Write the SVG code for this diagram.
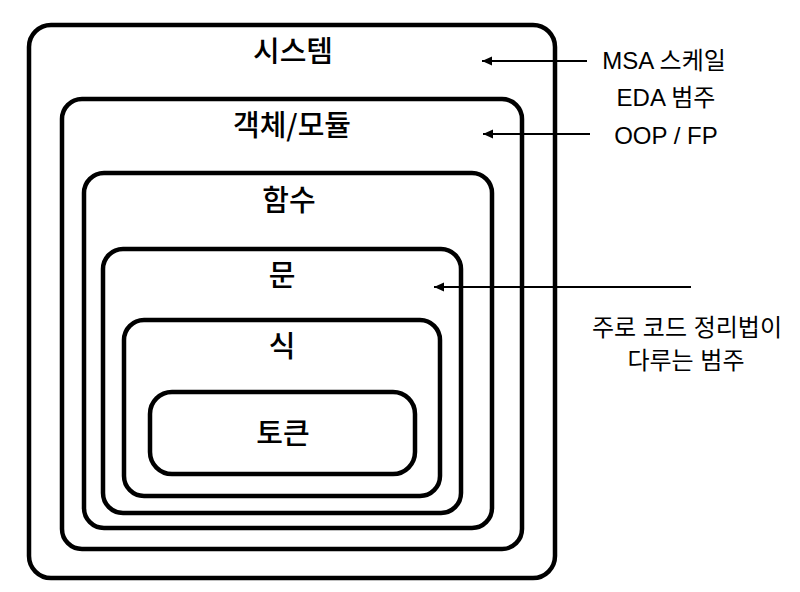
<svg xmlns="http://www.w3.org/2000/svg" width="800" height="592" viewBox="0 0 800 592">
<defs>
<marker id="ah" viewBox="0 0 10 10" refX="10" refY="5" markerWidth="5" markerHeight="5" orient="auto" markerUnits="strokeWidth">
<path d="M10,5 L0,0.5 L0,9.5 Z" fill="#000"/>
</marker>
</defs>
<style>
.box{fill:none;stroke:#000;stroke-width:4.5}
.t{font-family:"Noto Sans CJK KR","Noto Sans",sans-serif;font-size:29px;font-weight:500;text-anchor:middle;fill:#000}
.l{font-family:"Liberation Sans","Noto Sans CJK KR",sans-serif;font-size:24px;text-anchor:middle;fill:#000}
.c{stroke:#000;stroke-width:2;fill:none;marker-end:url(#ah)}
</style>
<rect width="800" height="592" fill="#fff"/>
<g id="system"><rect class="box" x="29" y="25" width="526" height="553" rx="22"/><text class="t" x="293" y="62">시스템</text></g>
<g id="object"><rect class="box" x="62" y="99" width="460" height="450" rx="20"/><text class="t" x="292" y="136">객체/모듈</text></g>
<g id="function"><rect class="box" x="84" y="173" width="408" height="355" rx="20"/><text class="t" x="289" y="211">함수</text></g>
<g id="statement"><rect class="box" x="103" y="249" width="358" height="264" rx="20"/><text class="t" x="282" y="286">문</text></g>
<g id="expression"><rect class="box" x="124" y="320" width="316" height="176" rx="20"/><text class="t" x="282" y="357">식</text></g>
<g id="token"><rect class="box" x="150" y="392" width="265" height="82" rx="22"/><text class="t" x="283" y="444">토큰</text></g>
<g id="labels">
<text class="l" x="664" y="69">MSA 스케일</text>
<text class="l" x="666" y="106">EDA 범주</text>
<text class="l" x="666" y="144">OOP / FP</text>
<text class="l" x="687" y="336">주로 코드 정리법이</text>
<text class="l" x="686" y="369">다루는 범주</text>
</g>
<g id="connectors">
<line class="c" x1="587" y1="61" x2="482" y2="61"/>
<line class="c" x1="590" y1="134" x2="483" y2="134"/>
<line class="c" x1="691" y1="287" x2="434" y2="287"/>
</g>
</svg>
